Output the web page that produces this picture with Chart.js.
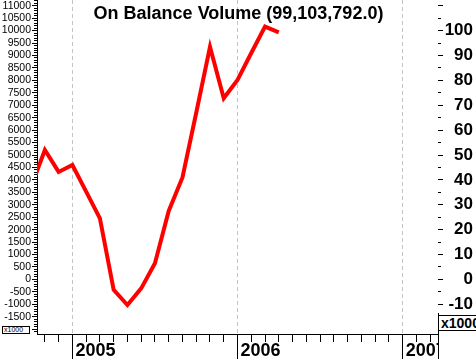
<!DOCTYPE html>
<html>
<head>
<meta charset="utf-8">
<script src="https://cdn.jsdelivr.net/npm/chart.js@4.4.1/dist/chart.umd.min.js"></script>
<style>
  html, body { margin: 0; padding: 0; background: #fff; }
  #wrap { position: relative; width: 476px; height: 359px; overflow: hidden; }
  canvas { position: absolute; left: 0; top: 0; }
  .ov { position: absolute; font-family: "Liberation Sans", Arial, sans-serif; color: #000; white-space: nowrap; }
  #title { left: 0; width: 477px; top: 4px; text-align: center; font-weight: bold; font-size: 18px; line-height: 18px; }
  #boxL { left: 2px; top: 326px; width: 25px; height: 6px; border: 1px solid #000; font-size: 7px; line-height: 6px; overflow: hidden; padding-left: 1px; box-sizing: content-box; background:#fff; }
  #clipR { left: 438px; top: 313px; width: 40px; height: 46px; background: #fff; border-left: 1px solid #000; }
  #boxR { left: 438px; top: 315px; width: 44px; height: 14px; border: 1px solid #000; font-size: 14px; font-weight: bold; line-height: 14px; padding-left: 2px; background: #fff; overflow: hidden; }
</style>
</head>
<body>
<div id="wrap">
  <canvas id="c" width="476" height="359"></canvas>
  <div class="ov" id="clipR"></div>
  <div class="ov" id="boxR">x1000</div>
  <div class="ov" id="boxL">x1000</div>
  <div class="ov" id="title">On Balance Volume (99,103,792.0)</div>
</div>
<script>
// Month index: 0 = Jan 2005, 12 = Jan 2006, 24 = Jan 2007
const months = [-3, -2, -1, 0, 1, 2, 3, 4, 5, 6, 7, 8, 9, 10, 11, 12, 13, 14, 15];
const obv = [3730, 5200, 4320, 4600, 3530, 2450, -420, -1030, -360, 650, 2750, 4100, 6700, 9350, 7280, 8020, 9100, 10160, 9930];
const yearTicks = { 0: '2005', 12: '2006', 24: '2007' };
const leftTickValues = [-2000, -1500, -1000, -500, 0, 500, 1000, 1500, 2000, 2500, 3000, 3500, 4000, 4500, 5000,
  5500, 6000, 6500, 7000, 7500, 8000, 8500, 9000, 9500, 10000, 10500, 11000];
const leftRange = [-2194, 11230];
const xRange = [-2.572, 26.57];

function zeroPad(s) { s.paddingLeft = 0; s.paddingRight = 0; s.paddingTop = 0; s.paddingBottom = 0; }

const points = months.map((m, i) => ({ x: m, y: obv[i] }));

new Chart(document.getElementById('c'), {
  type: 'line',
  data: {
    datasets: [{
      data: points,
      borderColor: '#ff0000',
      borderWidth: 4,
      pointRadius: 0,
      tension: 0,
      fill: false,
      xAxisID: 'x',
      yAxisID: 'y'
    }]
  },
  options: {
    responsive: false,
    animation: false,
    devicePixelRatio: 1,
    layout: { padding: { left: 0, right: 3, top: 0, bottom: 0 } },
    plugins: { legend: { display: false }, tooltip: { enabled: false }, title: { display: false } },
    scales: {
      x: {
        type: 'linear', position: 'bottom', weight: 0,
        min: xRange[0], max: xRange[1],
        ticks: { stepSize: 1, display: false, includeBounds: false, autoSkip: false },
        grid: { drawOnChartArea: false, tickLength: 8, tickColor: '#000', color: '#000' },
        border: { display: true, color: '#000', width: 1 },
        afterFit: s => { s.height = 0; zeroPad(s); }
      },
      xy: {
        type: 'linear', position: 'bottom', weight: 1,
        min: xRange[0], max: xRange[1],
        ticks: {
          stepSize: 12, includeBounds: false, autoSkip: false, maxRotation: 0,
          align: 'start', labelOffset: 3, padding: -19,
          color: '#000', font: { family: 'Liberation Sans, Arial', size: 18, weight: 'bold' },
          callback: v => yearTicks[v] || ''
        },
        grid: { drawOnChartArea: true, color: '#c4c4c4', tickColor: '#000', tickLength: 25, tickBorderDash: [] },
        border: { display: false, dash: [4, 3] },
        afterFit: s => { s.height = 25; zeroPad(s); }
      },
      y: {
        type: 'linear', position: 'left', weight: 0,
        min: leftRange[0], max: leftRange[1],
        ticks: { stepSize: 100, display: false, includeBounds: false, autoSkip: false },
        grid: { drawOnChartArea: false, tickLength: 3, tickColor: '#000' },
        border: { display: false },
        afterFit: s => { s.width = 0; zeroPad(s); }
      },
      yl: {
        type: 'linear', position: 'left', weight: 1,
        min: leftRange[0], max: leftRange[1],
        afterBuildTicks: s => { s.ticks = leftTickValues.map(v => ({ value: v })); },
        ticks: {
          autoSkip: false, padding: 1,
          color: '#000', font: { family: 'Liberation Sans, Arial', size: 10.5 },
          callback: v => (v >= -1500 ? String(v) : '')
        },
        grid: { drawOnChartArea: false, tickLength: 5, tickColor: '#000' },
        border: { display: true, color: '#000', width: 1 },
        afterFit: s => { s.width = 37; zeroPad(s); }
      },
      yr: {
        type: 'linear', position: 'right', weight: 0,
        min: leftRange[0] / 100, max: leftRange[1] / 100,
        ticks: { stepSize: 5, display: false, includeBounds: false, autoSkip: false },
        grid: { drawOnChartArea: false, tickLength: 3, tickColor: '#000' },
        border: { display: false },
        afterFit: s => { s.width = 0; zeroPad(s); }
      },
      yr2: {
        type: 'linear', position: 'right', weight: 1,
        min: leftRange[0] / 100, max: leftRange[1] / 100,
        ticks: {
          stepSize: 10, includeBounds: false, autoSkip: false, crossAlign: 'far',
          color: '#000', font: { family: 'Liberation Sans, Arial', size: 17, weight: 'bold' },
          callback: v => (v >= -10 && v <= 100 ? String(v) : '')
        },
        grid: { drawOnChartArea: false, tickLength: 5, tickColor: '#000' },
        border: { display: false },
        afterFit: s => { s.width = 35; zeroPad(s); }
      }
    }
  }
});
</script>
</body>
</html>
